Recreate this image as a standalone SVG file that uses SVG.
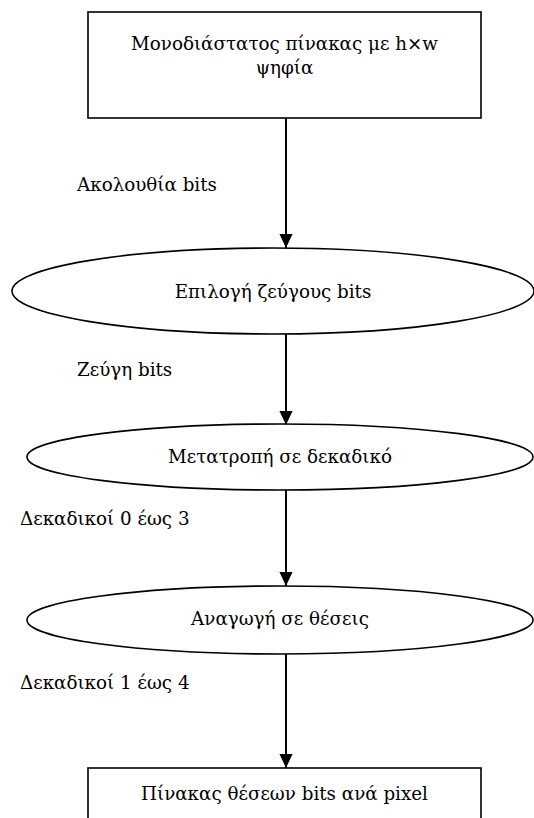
<svg xmlns="http://www.w3.org/2000/svg" width="534" height="818" viewBox="0 0 534 818">
  <defs>
    <marker id="arrow" markerUnits="userSpaceOnUse" markerWidth="14" markerHeight="15" refX="15" refY="7" orient="auto" viewBox="0 0 15 14">
      <path d="M0,0 L15,7 L0,14 Z" fill="#000"/>
    </marker>
    <style>
      .shape { fill: #fff; stroke: #000; stroke-width: 1.6; }
      .mid { text-anchor: middle; }
      .edge { stroke: #000; stroke-width: 2; fill: none; marker-end: url(#arrow); }
      text { font-family: "DejaVu Serif", "Liberation Serif", serif; font-size: 18.3px; fill: #000; }
    </style>
  </defs>
  <rect width="534" height="818" fill="#fff"/>

  <!-- connectors -->
  <g id="connectors">
    <line class="edge" x1="286" y1="118" x2="286" y2="248"/>
    <line class="edge" x1="286" y1="334" x2="286" y2="425"/>
    <line class="edge" x1="286" y1="490" x2="286" y2="586"/>
    <line class="edge" x1="286" y1="654" x2="286" y2="768"/>
    <text x="77" y="191">Ακολουθία bits</text>
    <text x="77" y="376">Ζεύγη bits</text>
    <text x="20" y="525">Δεκαδικοί 0 έως 3</text>
    <text x="20" y="689">Δεκαδικοί 1 έως 4</text>
  </g>

  <g id="input-array">
    <rect class="shape" x="88" y="12" width="393" height="106"/>
    <text class="mid" x="284.5" y="50">Μονοδιάστατος πίνακας με h×w</text>
    <text class="mid" x="284.5" y="74">ψηφία</text>
  </g>

  <g id="pair-select">
    <ellipse class="shape" cx="273" cy="291" rx="261" ry="43"/>
    <text class="mid" x="273" y="298">Επιλογή ζεύγους bits</text>
  </g>

  <g id="to-decimal">
    <ellipse class="shape" cx="280" cy="457" rx="253" ry="33"/>
    <text class="mid" x="280" y="463">Μετατροπή σε δεκαδικό</text>
  </g>

  <g id="to-positions">
    <ellipse class="shape" cx="280" cy="620" rx="253" ry="34"/>
    <text class="mid" x="280" y="625">Αναγωγή σε θέσεις</text>
  </g>

  <g id="output-array">
    <rect class="shape" x="88" y="768" width="393" height="70"/>
    <text class="mid" x="284.5" y="800">Πίνακας θέσεων bits ανά pixel</text>
  </g>
</svg>
